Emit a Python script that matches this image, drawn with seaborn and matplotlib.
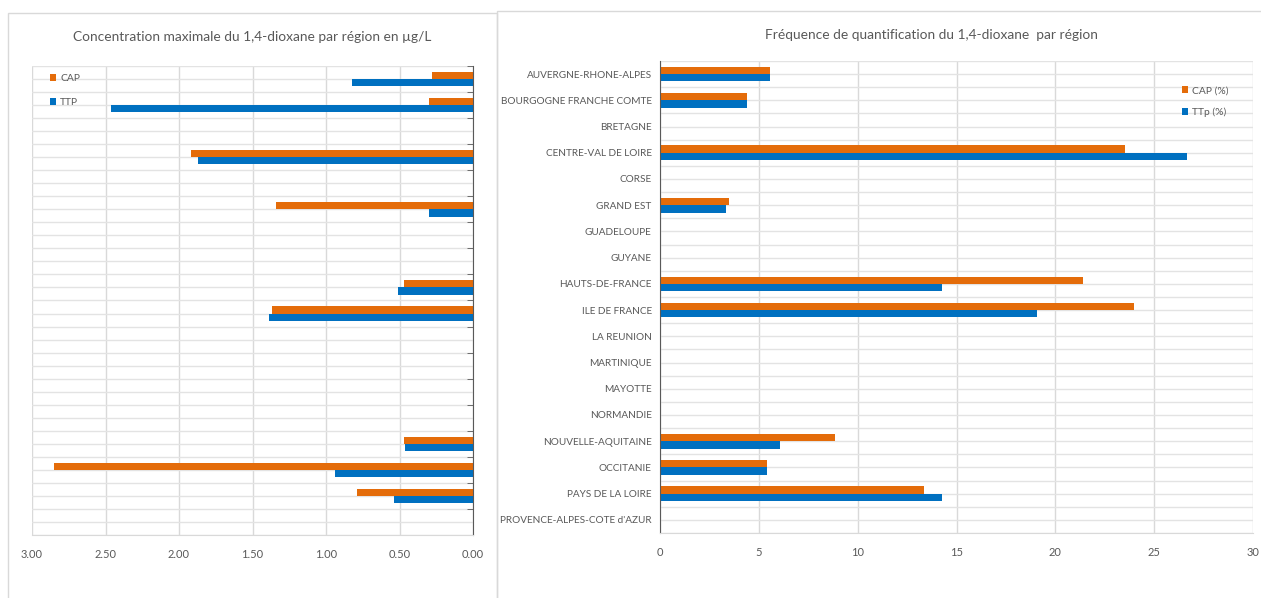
import numpy as np
import pandas as pd
import matplotlib.pyplot as plt
from matplotlib.patches import Rectangle
from matplotlib.ticker import MultipleLocator, FixedLocator, FormatStrFormatter
import seaborn as sns

regions = [
    "AUVERGNE-RHONE-ALPES", "BOURGOGNE FRANCHE COMTE", "BRETAGNE",
    "CENTRE-VAL DE LOIRE", "CORSE", "GRAND EST", "GUADELOUPE", "GUYANE",
    "HAUTS-DE-FRANCE", "ILE DE FRANCE", "LA REUNION", "MARTINIQUE",
    "MAYOTTE", "NORMANDIE", "NOUVELLE-AQUITAINE", "OCCITANIE",
    "PAYS DE LA LOIRE", "PROVENCE-ALPES-COTE d'AZUR",
]
# concentration maximale (µg/L)
cap_max = [0.28, 0.30, 0, 1.92, 0, 1.34, 0, 0, 0.47, 1.37, 0, 0, 0, 0, 0.47, 2.85, 0.79, 0]
ttp_max = [0.82, 2.46, 0, 1.87, 0, 0.30, 0, 0, 0.51, 1.39, 0, 0, 0, 0, 0.46, 0.94, 0.54, 0]
# fréquence de quantification (%)
cap_freq = [5.56, 4.39, 0, 23.5, 0, 3.47, 0, 0, 21.4, 24.0, 0, 0, 0, 0, 8.84, 5.43, 13.36, 0]
ttp_freq = [5.56, 4.39, 0, 26.67, 0, 3.36, 0, 0, 14.29, 19.05, 0, 0, 0, 0, 6.09, 5.43, 14.29, 0]

ORANGE = "#E46C0A"
BLUE = "#0070C0"
TXT = "#595959"
GRID = "#E3E3E3"

sns.set_style("white")
plt.rcParams["font.family"] = ["Lato", "DejaVu Sans"]
plt.rcParams["text.color"] = TXT


def long_df(a, b, na, nb):
    return pd.DataFrame({
        "region": regions * 2,
        "value": list(a) + list(b),
        "serie": [na] * len(regions) + [nb] * len(regions),
    })


def style_axis(ax, major, minor, fmt):
    n = len(regions)
    ax.set_ylim(n - 0.5, -0.5)
    ax.yaxis.set_major_locator(FixedLocator(np.arange(n)))
    ax.yaxis.set_minor_locator(FixedLocator(np.arange(n + 1) - 0.5))
    ax.xaxis.set_major_locator(MultipleLocator(major))
    ax.xaxis.set_minor_locator(MultipleLocator(minor))
    ax.xaxis.set_major_formatter(FormatStrFormatter(fmt))
    ax.grid(axis="x", which="major", color="#D9D9D9", lw=1)
    ax.grid(axis="y", which="both", color=GRID, lw=1)
    ax.set_axisbelow(True)
    ax.tick_params(axis="x", which="both", direction="out", length=4,
                   color="#D9D9D9", labelcolor=TXT, labelsize=8, pad=6)
    ax.tick_params(axis="y", which="major", length=0, labelcolor=TXT, labelsize=7.2, pad=6)
    ax.tick_params(axis="y", which="minor", direction="in", length=4, color=TXT)
    ax.spines["top"].set_visible(False)
    ax.spines["bottom"].set_color("#D9D9D9")
    ax.set_xlabel("")
    ax.set_ylabel("")


def add_legend(ax, anchor, spacing):
    return ax.legend(title=None, loc="upper left", bbox_to_anchor=anchor, frameon=False,
                     fontsize=7.4, handlelength=0.6, handleheight=0.6, handletextpad=0.4,
                     labelspacing=spacing, labelcolor=TXT)


fig = plt.figure(figsize=(12.61, 5.98), dpi=100)

# panel frames
fig.add_artist(Rectangle((8 / 1261, -0.01), 489 / 1261, 1 - 13 / 598 + 0.01,
                         transform=fig.transFigure, fill=False, ec="#D9D9D9", lw=1))
fig.add_artist(Rectangle((497 / 1261, -0.01), 770 / 1261, 1 - 11 / 598 + 0.01,
                         transform=fig.transFigure, fill=False, ec="#D9D9D9", lw=1))

# left: concentration maximale
ax1 = fig.add_axes([32 / 1261, 1 - 535 / 598, 441 / 1261, 469 / 598])
sns.barplot(data=long_df(cap_max, ttp_max, "CAP", "TTP"), y="region", x="value",
            hue="serie", orient="h", palette=[ORANGE, BLUE], width=0.56,
            saturation=1, linewidth=0, errorbar=None, ax=ax1)
ax1.set_xlim(3, 0)
ax1.yaxis.set_ticks_position("right")
style_axis(ax1, 0.5, 0.1, "%.2f")
ax1.set_yticklabels([])
ax1.spines["left"].set_visible(False)
ax1.spines["right"].set_color(TXT)
add_legend(ax1, (0.02, 1.002), 1.45)
fig.text(252 / 1261, 1 - 37 / 598, "Concentration maximale du 1,4-dioxane par région en µg/L",
         ha="center", va="center", fontsize=9.9, color=TXT)

# right: fréquence de quantification
ax2 = fig.add_axes([660 / 1261, 1 - 533 / 598, 593 / 1261, 472 / 598])
sns.barplot(data=long_df(cap_freq, ttp_freq, "CAP (%)", "TTp (%)"), y="region", x="value",
            hue="serie", orient="h", palette=[ORANGE, BLUE], width=0.56,
            saturation=1, linewidth=0, errorbar=None, ax=ax2)
ax2.set_xlim(0, 30)
style_axis(ax2, 5, 1, "%d")
ax2.spines["right"].set_visible(False)
ax2.spines["left"].set_color(TXT)
add_legend(ax2, (0.865, 0.966), 1.2)
fig.text(931 / 1261, 1 - 35 / 598, "Fréquence de quantification du 1,4-dioxane  par région",
         ha="center", va="center", fontsize=9.9, color=TXT)

fig.savefig("out.png", dpi=100)
